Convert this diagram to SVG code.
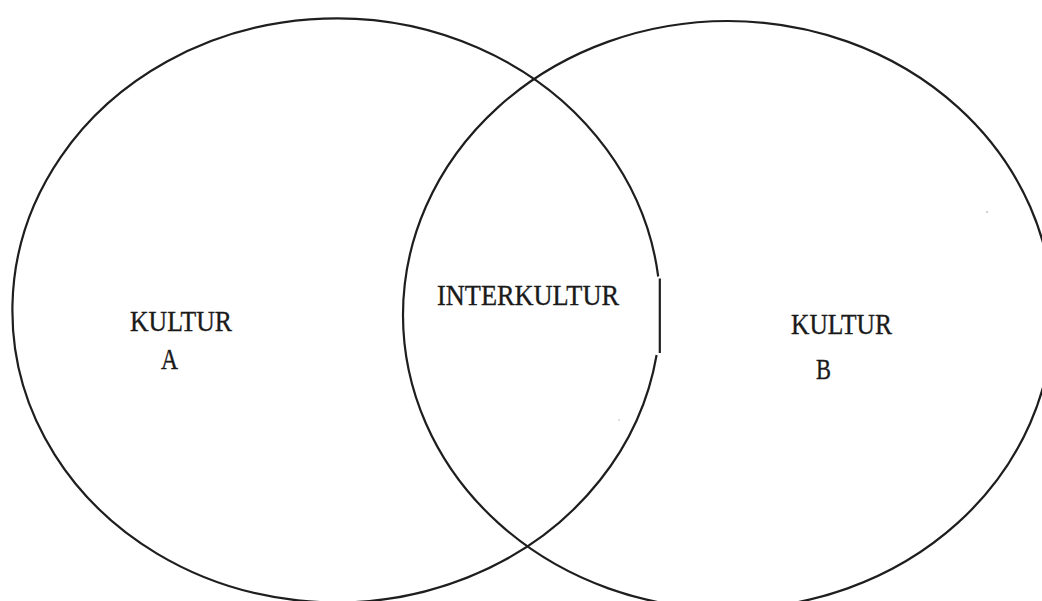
<svg xmlns="http://www.w3.org/2000/svg" width="1042" height="601" viewBox="0 0 1042 601">
<style>
.ring{fill:none;stroke:#1e1e1e;stroke-width:2.2}
.lbl{font-family:"Liberation Serif","DejaVu Serif",serif;font-size:29px;fill:#1a1a1a;stroke:#1a1a1a;stroke-width:0.35}
</style>
<rect width="1042" height="601" fill="#ffffff"/>
<g id="kultur-a">
<path class="ring" d="M658.2,276.5 A324,292 0 1 0 656.6,355"/>
<line class="ring" x1="659.8" y1="278.5" x2="659.8" y2="353"/>
<text class="lbl" x="130" y="331" textLength="102" lengthAdjust="spacingAndGlyphs">KULTUR</text>
<text class="lbl" x="161" y="369" textLength="17" lengthAdjust="spacingAndGlyphs">A</text>
</g>
<g id="kultur-b">
<ellipse class="ring" cx="728" cy="315" rx="325" ry="294"/>
<text class="lbl" x="791" y="334" textLength="101" lengthAdjust="spacingAndGlyphs">KULTUR</text>
<text class="lbl" x="816" y="379" textLength="15" lengthAdjust="spacingAndGlyphs">B</text>
</g>
<g id="interkultur">
<text class="lbl" x="437" y="305" textLength="182" lengthAdjust="spacingAndGlyphs">INTERKULTUR</text>
</g>
<g id="connectors"></g>
<circle cx="987" cy="212" r="0.8" fill="#999"/>
<circle cx="619" cy="420" r="0.7" fill="#aaa"/>
</svg>
